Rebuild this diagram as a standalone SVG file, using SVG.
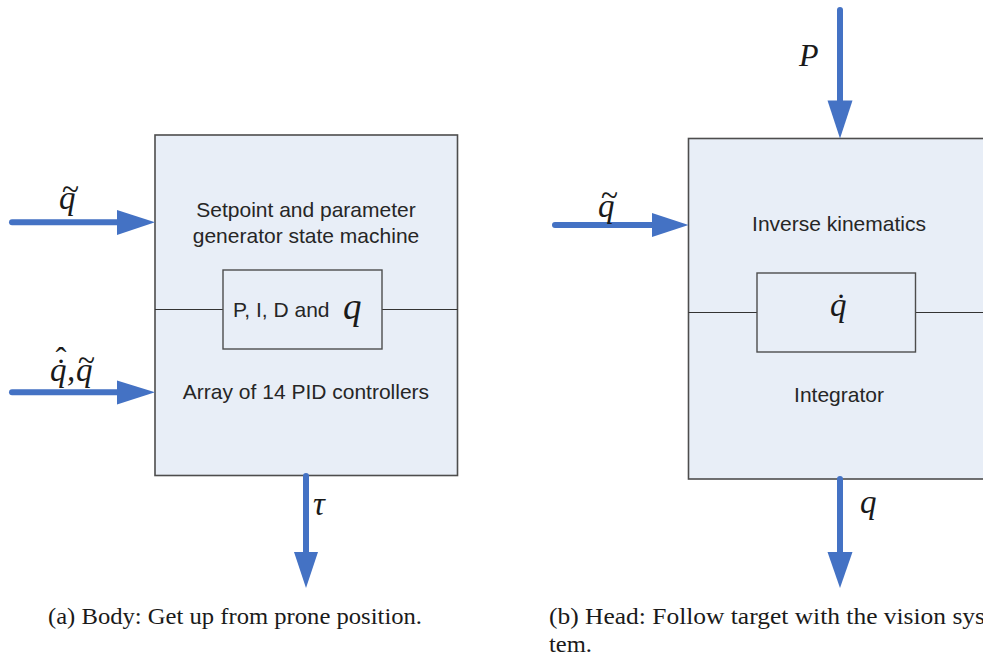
<svg xmlns="http://www.w3.org/2000/svg" width="983" height="657" viewBox="0 0 983 657">
  <style>
    .box { fill: #e8eef7; stroke: #4d4d4d; stroke-width: 1.6; }
    .inner { fill: #e8eef7; stroke: #4d4d4d; stroke-width: 1.4; }
    .div { stroke: #333333; stroke-width: 1.2; fill: none; }
    .wire { stroke: #4472c4; stroke-width: 6; stroke-linecap: round; fill: none; }
    .head { fill: #4472c4; }
    .lbl { font-family: "Liberation Sans", Arial, sans-serif; font-size: 21px; fill: #262626; text-anchor: middle; }
    .math { font-family: "Liberation Serif", "Times New Roman", serif; font-style: italic; font-size: 33px; fill: #1a1a1a; }
    .acc { font-family: "Liberation Serif", "Times New Roman", serif; font-size: 33px; fill: #1a1a1a; text-anchor: middle; }
    .tld { font-family: "Liberation Serif", "Times New Roman", serif; font-size: 34px; fill: #1a1a1a; text-anchor: middle; }
    .cap { font-family: "Liberation Serif", "Times New Roman", serif; font-size: 24px; fill: #1a1a1a; }
  </style>

  <!-- (a) body controller -->
  <g id="body-controller">
    <rect class="box" x="155" y="135" width="302.5" height="340.5"/>
    <line class="div" x1="155" y1="309.5" x2="223" y2="309.5"/>
    <line class="div" x1="382" y1="309.5" x2="457.5" y2="309.5"/>
    <text class="lbl" x="306" y="217">Setpoint and parameter</text>
    <text class="lbl" x="306" y="243">generator state machine</text>
    <text class="lbl" x="306" y="399">Array of 14 PID controllers</text>
  </g>
  <g id="pid-params">
    <rect class="inner" x="223" y="270" width="159" height="79"/>
    <text class="lbl" x="233" y="317" style="text-anchor:start">P, I, D and</text>
    <text class="math" x="343" y="319" style="font-size:37px">q</text>
  </g>

  <!-- (b) head controller -->
  <g id="head-controller">
    <rect class="box" x="688.5" y="138.5" width="300" height="340.5"/>
    <line class="div" x1="688.5" y1="312.5" x2="757" y2="312.5"/>
    <line class="div" x1="915.5" y1="312.5" x2="983" y2="312.5"/>
    <text class="lbl" x="839" y="231">Inverse kinematics</text>
    <text class="lbl" x="839" y="402">Integrator</text>
  </g>
  <g id="qdot-box">
    <rect class="inner" x="757" y="273" width="158.5" height="79"/>
    <text class="math" x="830" y="316">q</text>
    <text class="acc" x="841" y="317">˙</text>
  </g>

  <!-- signal arrows -->
  <g id="connectors">
    <line class="wire" x1="12" y1="222.3" x2="120" y2="222.3"/>
    <polygon class="head" points="117,210 155,222.3 117,235"/>

    <line class="wire" x1="12" y1="392.3" x2="120" y2="392.3"/>
    <polygon class="head" points="117,380.5 155,392.3 117,404.5"/>

    <line class="wire" x1="306" y1="476" x2="306" y2="555"/>
    <polygon class="head" points="294,552 318,552 306,588"/>

    <line class="wire" x1="555" y1="225" x2="655" y2="225"/>
    <polygon class="head" points="652,213 688.5,225 652,237"/>

    <line class="wire" x1="840" y1="10" x2="840" y2="104"/>
    <polygon class="head" points="827.5,100.5 852.5,100.5 840,138.5"/>

    <line class="wire" x1="840" y1="479" x2="840" y2="555"/>
    <polygon class="head" points="827.5,552 852.5,552 840,588"/>
  </g>

  <!-- signal names -->
  <g id="signal-labels">
    <text class="math" x="59" y="209">q</text>
    <text class="tld" x="62" y="199.5" textLength="17" lengthAdjust="spacingAndGlyphs" style="text-anchor:start">~</text>

    <text class="math" x="50" y="381">q</text>
    <text class="acc" x="61" y="382">˙</text>
    <text class="acc" x="61" y="371">ˆ</text>
    <text class="math" x="67" y="381">,</text>
    <text class="math" x="76" y="381">q</text>
    <text class="tld" x="78" y="371" textLength="17" lengthAdjust="spacingAndGlyphs" style="text-anchor:start">~</text>

    <text class="math" x="313" y="515">τ</text>

    <text class="math" x="598" y="217">q</text>
    <text class="tld" x="601" y="205.5" textLength="17" lengthAdjust="spacingAndGlyphs" style="text-anchor:start">~</text>

    <text class="math" x="799" y="66" style="font-size:32px">P</text>

    <text class="math" x="860" y="513">q</text>
  </g>

  <!-- sub-figure captions -->
  <text class="cap" x="48" y="624" textLength="374" lengthAdjust="spacingAndGlyphs">(a)  Body: Get up from prone position.</text>
  <text class="cap" x="549" y="624" textLength="436" lengthAdjust="spacingAndGlyphs">(b)  Head:  Follow target with the vision sys</text>
  <text class="cap" x="549" y="652" textLength="43" lengthAdjust="spacingAndGlyphs">tem.</text>
</svg>
